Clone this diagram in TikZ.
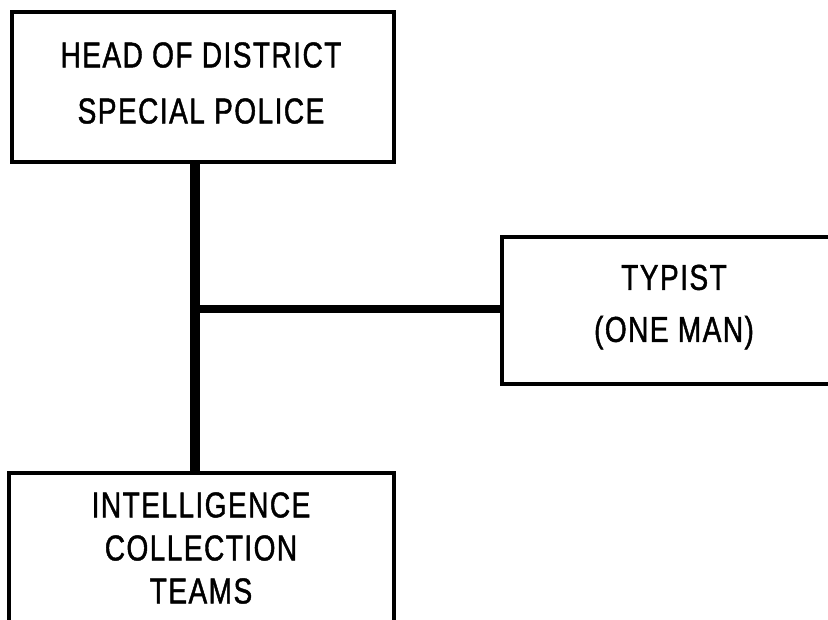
\documentclass[tikz,border=0pt]{standalone}
\usepackage{fontspec}
\setmainfont[FakeStretch=0.78,LetterSpace=4,FakeBold=1.2]{Liberation Sans}
\begin{document}
\begin{tikzpicture}[x=1pt,y=-1pt,
  box/.style={draw=black,line width=4pt,fill=white,inner sep=0pt,minimum width=#1},
  lbl/.style={inner sep=0pt,align=center,font=\fontsize{36}{#1}\selectfont},
  conn/.style={draw=black,line width=10pt},
  hconn/.style={draw=black,line width=8pt}]
\useasboundingbox (0,0) rectangle (828,619);
\clip (0,0) rectangle (828,619);
\coordinate (j) at (195,309);
\node[box=382pt,minimum height=150pt] (head) at (203,87) {};
\node[lbl=56] (headtext) at (201,83) {HEAD OF DISTRICT\\SPECIAL POLICE};
\node[box=344pt,minimum height=147pt] (typist) at (674,310.5) {};
\node[lbl=52] (typisttext) at (674,307) {TYPIST\\(ONE MAN)};
\node[box=385pt,minimum height=149pt] (teams) at (201.5,547.5) {};
\node[lbl=43] (teamstext) at (201,548) {INTELLIGENCE\\COLLECTION\\TEAMS};
\draw[conn] (head.south -| j) -- (teams.north -| j);
\draw[hconn] (j) -- (j -| typist.west);
\end{tikzpicture}
\end{document}
